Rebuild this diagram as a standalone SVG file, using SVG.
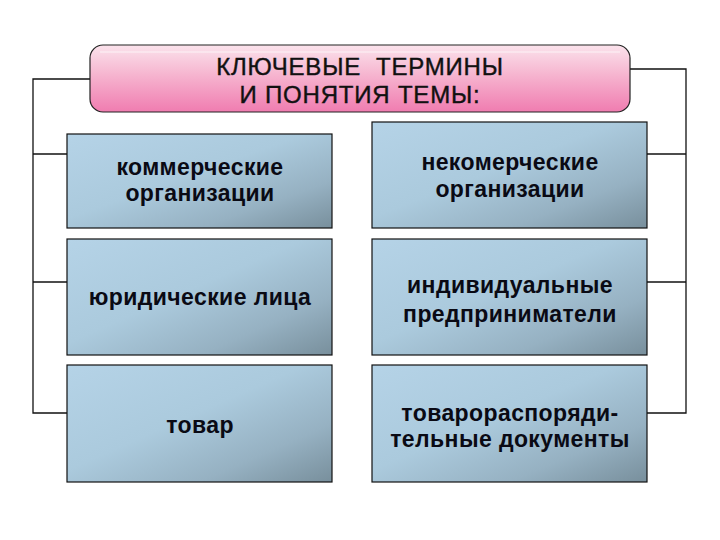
<svg xmlns="http://www.w3.org/2000/svg" width="720" height="540" viewBox="0 0 720 540">
  <defs>
    <linearGradient id="pink" x1="0" y1="0" x2="0" y2="1">
      <stop offset="0" stop-color="#fbe3ec"/>
      <stop offset="0.45" stop-color="#f6b4cf"/>
      <stop offset="1" stop-color="#f07cb0"/>
    </linearGradient>
    <linearGradient id="blue" x1="0" y1="0" x2="1" y2="1">
      <stop offset="0" stop-color="#b5d3e7"/>
      <stop offset="0.45" stop-color="#abcadd"/>
      <stop offset="0.75" stop-color="#96b1c2"/>
      <stop offset="1" stop-color="#788f9c"/>
    </linearGradient>
    <style>
      .box { fill: url(#blue); stroke: #111; stroke-width: 1.2; }
      .t { font-family: "Liberation Sans", Arial, sans-serif; font-weight: bold; font-size: 23px; letter-spacing: 0.4px; fill: #0a0a14; text-anchor: middle; }
      .title { font-family: "Liberation Sans", Arial, sans-serif; font-size: 24px; letter-spacing: 0.8px; fill: #111; stroke: #111; stroke-width: 0.4; text-anchor: middle; white-space: pre; }
      .conn { fill: none; stroke: #111; stroke-width: 1.3; }
    </style>
  </defs>
  <rect width="720" height="540" fill="#ffffff"/>

  <g id="connectors">
    <polyline class="conn" points="90,79 33,79 33,413 67,413"/>
    <line class="conn" x1="33" y1="154" x2="67" y2="154"/>
    <line class="conn" x1="33" y1="282" x2="67" y2="282"/>
    <polyline class="conn" points="630,69 686,69 686,413 647,413"/>
    <line class="conn" x1="647" y1="154" x2="686" y2="154"/>
    <line class="conn" x1="647" y1="282" x2="686" y2="282"/>
  </g>

  <g id="title">
    <rect x="90" y="45" width="540" height="67" rx="13" ry="13" fill="url(#pink)" stroke="#222" stroke-width="1.2"/>
    <line x1="100" y1="52" x2="620" y2="52" stroke="#ffffff" stroke-width="1" opacity="0.7"/>
    <text class="title" x="360" y="75" xml:space="preserve">КЛЮЧЕВЫЕ  ТЕРМИНЫ</text>
    <text class="title" x="360" y="103">И ПОНЯТИЯ ТЕМЫ:</text>
  </g>

  <g id="n1">
    <rect class="box" x="67" y="134" width="265" height="94"/>
    <text class="t" x="200" y="175">коммерческие</text>
    <text class="t" x="200" y="201">организации</text>
  </g>
  <g id="n2">
    <rect class="box" x="372" y="122" width="275" height="106"/>
    <text class="t" x="510" y="170">некомерческие</text>
    <text class="t" x="510" y="197">организации</text>
  </g>
  <g id="n3">
    <rect class="box" x="67" y="239" width="265" height="116"/>
    <text class="t" x="200" y="305">юридические лица</text>
  </g>
  <g id="n4">
    <rect class="box" x="372" y="239" width="275" height="116"/>
    <text class="t" x="510" y="293">индивидуальные</text>
    <text class="t" x="510" y="322">предприниматели</text>
  </g>
  <g id="n5">
    <rect class="box" x="67" y="365" width="265" height="117"/>
    <text class="t" x="200" y="433">товар</text>
  </g>
  <g id="n6">
    <rect class="box" x="372" y="365" width="275" height="117"/>
    <text class="t" x="510" y="421">товарораспоряди-</text>
    <text class="t" x="510" y="447">тельные документы</text>
  </g>
</svg>
